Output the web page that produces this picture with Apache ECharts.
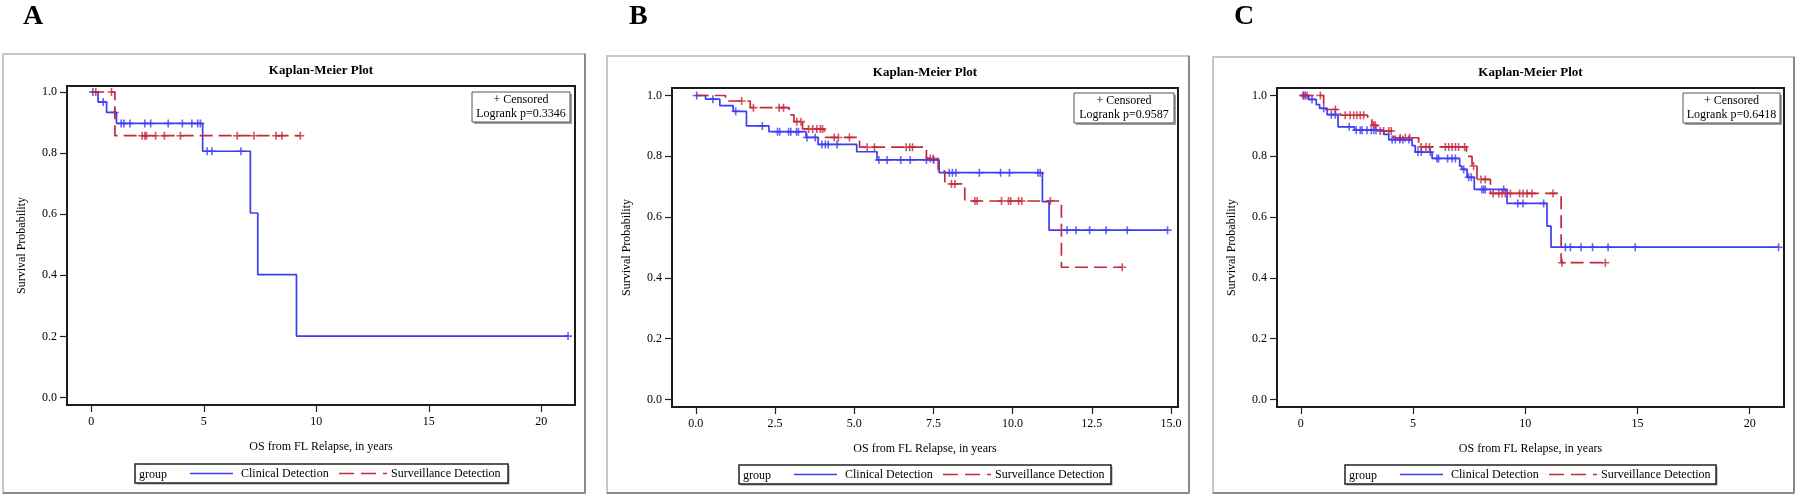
<!DOCTYPE html>
<html><head><meta charset="utf-8">
<script src="https://cdn.jsdelivr.net/npm/echarts@6/dist/echarts.min.js"></script>
<style>html,body{margin:0;padding:0;background:#fff}#c{width:1800px;height:499px}</style>
</head><body><div id="c"></div>
<script>
// ---------------- DATA ----------------
const seriesNames = ['Clinical Detection', 'Surveillance Detection'];
const panelLetters = ['A', 'B', 'C'];
const pValues = ['0.3346', '0.9587', '0.6418'];
const yTickValues = [0, 0.2, 0.4, 0.6, 0.8, 1.0];
const xTicksA = [0, 5, 10, 15, 20];
const xTicksB = [0, 2.5, 5, 7.5, 10, 12.5, 15];
const xTicksC = [0, 5, 10, 15, 20];

// Panel A
const aClinicalTime = [0, 0.30, 0.68, 1.12, 4.95, 7.07, 7.40, 9.12, 21.19];
const aClinicalSurv = [1.0, 0.967, 0.933, 0.897, 0.806, 0.604, 0.402, 0.201, 0.201];
const aClinicalCens = [0.07, 0.53, 1.04, 1.33, 1.45, 1.72, 2.38, 2.64, 3.42, 4.05, 4.47, 4.73, 4.85, 5.15, 5.36, 6.65, 21.19];
const aSurvTime = [0, 1.05, 9.29];
const aSurvSurv = [1.0, 0.857, 0.857];
const aSurvCens = [0.2, 0.9, 2.26, 2.38, 2.45, 2.86, 3.25, 3.96, 6.48, 7.23, 8.21, 8.47, 9.29];

// Panel B
const bClinicalTime = [0, 0.31, 0.76, 1.18, 1.6, 2.31, 3.48, 3.86, 5.08, 5.72, 7.68, 10.94, 11.15, 14.89];
const bClinicalSurv = [1.0, 0.988, 0.967, 0.948, 0.90, 0.881, 0.862, 0.839, 0.815, 0.788, 0.746, 0.651, 0.557, 0.557];
const bClinicalCens = [0.03, 0.54, 1.26, 2.1, 2.58, 2.65, 2.93, 3.0, 3.18, 3.24, 3.51, 3.77, 3.98, 4.09, 4.18, 4.46, 5.78, 6.04, 6.47, 6.77, 7.28, 7.51, 8.0, 8.1, 8.21, 8.95, 9.62, 9.9, 10.8, 10.87, 11.72, 12.0, 12.43, 12.95, 13.62, 14.89];
const bSurvTime = [0, 0.94, 1.72, 2.95, 3.1, 3.37, 4.06, 5.17, 7.28, 7.65, 7.86, 8.49, 11.54, 13.46];
const bSurvSurv = [1.0, 0.982, 0.96, 0.936, 0.914, 0.89, 0.862, 0.83, 0.793, 0.752, 0.709, 0.653, 0.435, 0.435];
const bSurvCens = [1.45, 1.82, 2.63, 2.77, 3.19, 3.32, 3.56, 3.69, 3.82, 3.93, 4.0, 4.37, 4.5, 4.85, 5.41, 5.64, 6.64, 6.75, 6.84, 7.4, 7.49, 8.07, 8.18, 8.81, 8.88, 9.65, 9.87, 9.94, 10.19, 10.29, 11.19, 13.46];

// Panel C
const cClinicalTime = [0, 0.35, 0.69, 0.84, 1.17, 1.66, 2.39, 3.7, 3.92, 4.96, 5.1, 5.85, 7.08, 7.18, 7.41, 7.73, 9.19, 10.97, 11.15, 21.29];
const cClinicalSurv = [1.0, 0.987, 0.97, 0.958, 0.937, 0.897, 0.886, 0.872, 0.855, 0.835, 0.814, 0.793, 0.768, 0.757, 0.731, 0.691, 0.645, 0.57, 0.501, 0.501];
const cClinicalCens = [0.1, 0.2, 0.5, 1.02, 1.36, 1.54, 2.16, 2.47, 2.65, 2.73, 2.95, 3.14, 3.25, 3.35, 4.07, 4.21, 4.41, 4.55, 4.81, 5.22, 5.37, 5.77, 6.07, 6.14, 6.54, 6.74, 6.89, 7.26, 7.48, 7.6, 8.07, 8.15, 8.22, 9.04, 9.67, 9.9, 10.82, 11.79, 12.01, 12.49, 13.0, 13.69, 14.9, 21.29];
const cSurvTime = [0, 1.02, 1.76, 2.98, 3.17, 3.42, 4.14, 5.25, 7.38, 7.63, 7.85, 8.45, 11.6, 13.57];
const cSurvSurv = [1.0, 0.954, 0.935, 0.921, 0.902, 0.883, 0.861, 0.831, 0.80, 0.768, 0.724, 0.678, 0.45, 0.45];
const cSurvCens = [0.13, 0.28, 0.87, 1.54, 1.98, 2.2, 2.36, 2.5, 2.65, 2.8, 3.25, 3.32, 3.54, 3.69, 3.92, 4.03, 4.43, 4.66, 4.85, 5.36, 5.58, 5.73, 6.44, 6.59, 6.74, 6.89, 7.03, 7.3, 7.7, 8.03, 8.22, 8.57, 8.82, 8.97, 9.11, 9.34, 9.75, 9.9, 10.08, 10.3, 11.24, 11.64, 13.57];

// --------------- LAYOUT / STYLE ---------------
const BLUE = '#3d3df2';
const RED = '#c42a3a';
const SERIF = '"Liberation Serif", "DejaVu Serif", serif';
const panels = [
  { frame: [3, 54, 585, 493], grid: { left: 67, top: 86, width: 508, height: 319 }, x: [-1.08, 21.5], y: [-0.0245, 1.0196], xt: xTicksA, xfmt: v => String(v), titleY: 71, letterX: 23, legend: [135, 464, 373, 19], cbox: [472, 92, 98, 30],
    cl: [aClinicalTime, aClinicalSurv, aClinicalCens], sv: [aSurvTime, aSurvSurv, aSurvCens] },
  { frame: [607, 56, 1189, 493], grid: { left: 672, top: 88, width: 506, height: 319 }, x: [-0.75, 15.22], y: [-0.0247, 1.0247], xt: xTicksB, xfmt: v => v.toFixed(1), titleY: 73, letterX: 629, legend: [739, 465, 372, 19], cbox: [1074, 93, 100, 30],
    cl: [bClinicalTime, bClinicalSurv, bClinicalCens], sv: [bSurvTime, bSurvSurv, bSurvCens] },
  { frame: [1213, 57, 1794, 493], grid: { left: 1277, top: 88, width: 507, height: 319 }, x: [-1.06, 21.53], y: [-0.0247, 1.0247], xt: xTicksC, xfmt: v => String(v), titleY: 73, letterX: 1234, legend: [1345, 465, 371, 19], cbox: [1683, 93, 97, 30],
    cl: [cClinicalTime, cClinicalSurv, cClinicalCens], sv: [cSurvTime, cSurvSurv, cSurvCens] }
];

function survAt(times, survs, t) {
  let s = survs[0];
  for (let i = 0; i < times.length; i++) { if (times[i] <= t + 1e-9) s = survs[i]; }
  return s;
}
const PLUS = 'path://M4,0H6V4H10V6H6V10H4V6H0V4H4Z';

const grids = [], xAxes = [], yAxes = [], series = [], graphics = [];
panels.forEach((p, i) => {
  grids.push(Object.assign({ show: true, borderColor: '#1c1c1c', borderWidth: 2, backgroundColor: 'transparent' }, p.grid));
  xAxes.push({
    type: 'value', gridIndex: i, min: p.x[0], max: p.x[1], position: 'bottom',
    axisLine: { show: false, onZero: false }, splitLine: { show: false },
    axisTick: { show: true, length: 7, lineStyle: { color: '#222', width: 1.2 }, customValues: p.xt },
    axisLabel: { customValues: p.xt, formatter: p.xfmt, color: '#000', fontFamily: SERIF, fontSize: 12, margin: 11 },
    name: 'OS from FL Relapse, in years', nameLocation: 'middle', nameGap: 36,
    nameTextStyle: { color: '#000', fontFamily: SERIF, fontSize: 12 }
  });
  yAxes.push({
    type: 'value', gridIndex: i, min: p.y[0], max: p.y[1], position: 'left',
    axisLine: { show: false, onZero: false }, splitLine: { show: false },
    axisTick: { show: true, length: 7, lineStyle: { color: '#222', width: 1.2 }, customValues: yTickValues },
    axisLabel: { customValues: yTickValues, formatter: v => v.toFixed(1), color: '#000', fontFamily: SERIF, fontSize: 12, margin: 10 },
    name: 'Survival Probability', nameLocation: 'middle', nameGap: 39,
    nameTextStyle: { color: '#000', fontFamily: SERIF, fontSize: 12 }
  });
  const groups = [[p.cl, BLUE, 'solid', seriesNames[0]], [p.sv, RED, [13, 6], seriesNames[1]]];
  groups.forEach(([g, col, dash, nm]) => {
    series.push({
      type: 'line', name: nm, xAxisIndex: i, yAxisIndex: i, step: 'end', symbol: 'none',
      data: g[0].map((t, k) => [t, g[1][k]]),
      lineStyle: { color: col, width: 1.7, type: dash }, animation: false, silent: true
    });
  });
  groups.forEach(([g, col, dash, nm]) => {
    series.push({
      type: 'scatter', name: nm + ' censored', xAxisIndex: i, yAxisIndex: i,
      symbol: PLUS, symbolSize: 8,
      data: g[2].map(t => [t, survAt(g[0], g[1], t)]),
      itemStyle: { color: col }, animation: false, silent: true
    });
  });

  // decorations
  const [fx1, fy1, fx2, fy2] = p.frame;
  graphics.push({ type: 'rect', shape: { x: fx1, y: fy1, width: fx2 - fx1, height: fy2 - fy1 }, style: { fill: 'none', stroke: '#c6c6c6', lineWidth: 2 } });
  graphics.push({ type: 'line', shape: { x1: fx2, y1: fy1, x2: fx2, y2: fy2 }, style: { stroke: '#8a8a8a', lineWidth: 2 } });
  graphics.push({ type: 'line', shape: { x1: fx1, y1: fy2, x2: fx2, y2: fy2 }, style: { stroke: '#8a8a8a', lineWidth: 2 } });
  graphics.push({ type: 'text', style: { text: panelLetters[i], x: p.letterX, y: 3, font: 'bold 28px ' + SERIF, fill: '#000' } });
  const cx = p.grid.left + p.grid.width / 2;
  graphics.push({ type: 'text', style: { text: 'Kaplan-Meier Plot', x: cx, y: p.titleY, textAlign: 'center', textVerticalAlign: 'middle', font: 'bold 13px ' + SERIF, fill: '#000' } });
  // censored box
  const [bx, by, bw, bh] = p.cbox;
  graphics.push({ type: 'rect', shape: { x: bx + 2, y: by + 2, width: bw, height: bh }, style: { fill: '#a0a0a0' }, z: 10 });
  graphics.push({ type: 'rect', shape: { x: bx, y: by, width: bw, height: bh }, style: { fill: '#fff', stroke: '#555', lineWidth: 1 }, z: 11 });
  graphics.push({ type: 'text', style: { text: '+ Censored', x: bx + bw / 2, y: by + 8, textAlign: 'center', textVerticalAlign: 'middle', font: '12px ' + SERIF, fill: '#000' }, z: 12 });
  graphics.push({ type: 'text', style: { text: 'Logrank p=' + pValues[i], x: bx + bw / 2, y: by + 22, textAlign: 'center', textVerticalAlign: 'middle', font: '12px ' + SERIF, fill: '#000' }, z: 12 });
  // legend box
  const [lx, ly, lw, lh] = p.legend;
  const lcy = ly + lh / 2;
  graphics.push({ type: 'rect', shape: { x: lx + 1.5, y: ly + 1.5, width: lw, height: lh }, style: { fill: '#999' }, z: 10 });
  graphics.push({ type: 'rect', shape: { x: lx, y: ly, width: lw, height: lh }, style: { fill: '#fff', stroke: '#222', lineWidth: 1.5 }, z: 11 });
  graphics.push({ type: 'text', style: { text: 'group', x: lx + 4, y: lcy + 1, textVerticalAlign: 'middle', font: '12px ' + SERIF, fill: '#000' }, z: 12 });
  graphics.push({ type: 'line', shape: { x1: lx + 55, y1: lcy, x2: lx + 98, y2: lcy }, style: { stroke: BLUE, lineWidth: 1.6 }, z: 12 });
  graphics.push({ type: 'text', style: { text: seriesNames[0], x: lx + 106, y: lcy, textVerticalAlign: 'middle', font: '12px ' + SERIF, fill: '#000' }, z: 12 });
  graphics.push({ type: 'line', shape: { x1: lx + 204, y1: lcy, x2: lx + 252, y2: lcy }, style: { stroke: RED, lineWidth: 1.6, lineDash: [15, 7] }, z: 12 });
  graphics.push({ type: 'text', style: { text: seriesNames[1], x: lx + 256, y: lcy, textVerticalAlign: 'middle', font: '12px ' + SERIF, fill: '#000' }, z: 12 });
});

const chart = echarts.init(document.getElementById('c'), null, { renderer: 'canvas' });
chart.setOption({
  backgroundColor: '#fff',
  animation: false,
  grid: grids, xAxis: xAxes, yAxis: yAxes, series: series,
  graphic: { elements: graphics }
});
</script>
</body></html>
